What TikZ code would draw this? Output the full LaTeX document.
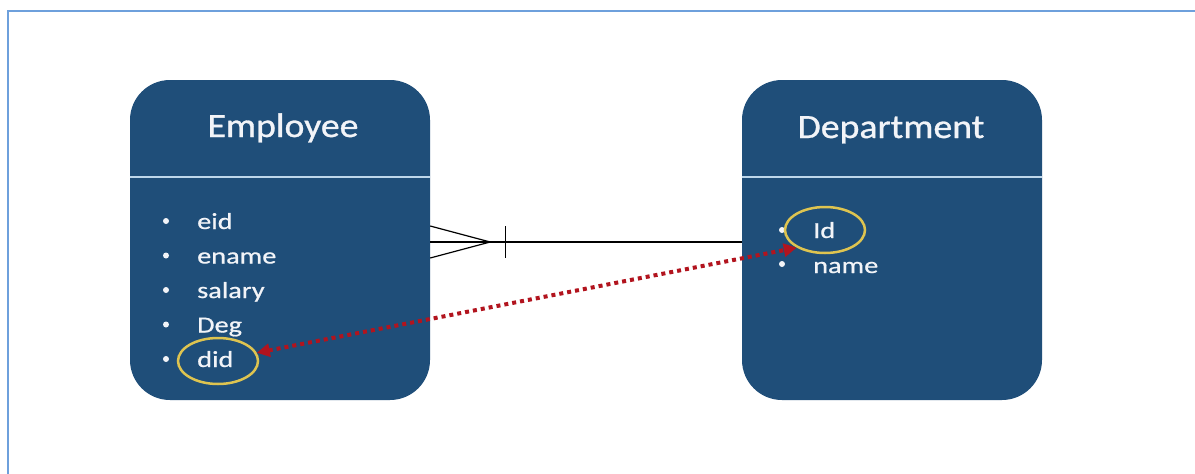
\documentclass[tikz,border=0pt]{standalone}
\usepackage{fontspec}
\setmainfont{Carlito}
\newfontfamily\titlefont[FakeStretch=1.11,FakeBold=0.9]{Carlito}
\newfontfamily\itemfont[FakeStretch=1.23,FakeBold=0.7]{Carlito}
\usetikzlibrary{arrows.meta,shapes.geometric,calc}
\definecolor{boxblue}{RGB}{31,78,121}
\definecolor{seplight}{RGB}{190,215,235}
\definecolor{framblue}{RGB}{110,160,220}
\definecolor{hlyellow}{RGB}{222,196,80}
\definecolor{fkred}{RGB}{178,20,30}
\definecolor{txtwhite}{RGB}{242,244,248}
\tikzset{
  entity/.style={draw=none, fill=boxblue, rounded corners=40pt, minimum width=300pt, minimum height=320pt, inner sep=0pt},
  septitle/.style={draw=seplight, line width=1.8pt},
  titletext/.style={text=txtwhite, font=\titlefont\fontsize{34}{40}\selectfont, inner sep=0pt},
  itemtext/.style={text=txtwhite, font=\itemfont\fontsize{23}{28}\selectfont, inner sep=0pt},
  bul/.style={circle, fill=txtwhite, minimum size=6pt, inner sep=0pt},
  hl/.style={ellipse, draw=hlyellow, line width=2.5pt, minimum width=80pt, minimum height=46pt, inner sep=0pt},
  rel/.style={draw=black, line width=1.2pt},
  fk/.style={draw=fkred, line width=4pt, dash pattern=on 4pt off 4pt,
     {Triangle[length=13pt,width=13pt]}-{Triangle[length=13pt,width=13pt]}},
  frameline/.style={draw=framblue, line width=2pt}
}
\begin{document}
\begin{tikzpicture}[x=1pt,y=-1pt]
\useasboundingbox (0,0) rectangle (1195,474);
\fill[white] (0,0) rectangle (1195,474);
% frame
\coordinate (fr1) at (8,474);
\coordinate (fr2) at (8,11);
\coordinate (fr3) at (1195,11);
\draw[frameline] (fr1) -- (fr2) -- (fr3);
% entities
\node[entity] (emp) at (280,240) {};
\node[entity] (dept) at (892,240) {};
\draw[septitle] (emp.west |- 0,177) -- (emp.east |- 0,177);
\draw[septitle] (dept.west |- 0,177) -- (dept.east |- 0,177);
\node[titletext, anchor=base] (empT) at (283,137) {Employee};
\node[titletext, anchor=base] (deptT) at (891,138) {Department};
% employee attributes
\node[bul] (eb1) at (166,221) {};
\node[bul] (eb2) at (166,255.5) {};
\node[bul] (eb3) at (166,290) {};
\node[bul] (eb4) at (166,324.5) {};
\node[bul] (eb5) at (166,359) {};
\node[itemtext, anchor=base west] (e1) at (197,229) {eid};
\node[itemtext, anchor=base west] (e2) at (197,263.5) {ename};
\node[itemtext, anchor=base west] (e3) at (197,298) {salary};
\node[itemtext, anchor=base west] (e4) at (197,332.5) {Deg};
\node[itemtext, anchor=base west] (e5) at (197,367) {did};
% department attributes
\node[bul] (db1) at (782,230) {};
\node[bul] (db2) at (782,264) {};
\node[itemtext, anchor=base west] (d1) at (813,238) {Id};
\node[itemtext, anchor=base west] (d2) at (813,273) {name};
% highlights
\node[hl] (didE) at (218,361) {};
\node[hl] (idE) at (825,230) {};
% relationship (many-to-one)
\coordinate (relL) at ($(emp.east)+(0,2)$);
\coordinate (relR) at ($(dept.west)+(0,2)$);
\coordinate (cfTop) at ($(relL)+(0,-16)$);
\coordinate (cfBot) at ($(relL)+(0,16)$);
\coordinate (cfTip) at ($(relL)+(60,0)$);
\coordinate (barTop) at ($(relL)+(75,-16)$);
\coordinate (barBot) at ($(relL)+(75,16)$);
\draw[rel] (relL) -- (relR);
\draw[rel] (cfTop) -- (cfTip) -- (cfBot);
\draw[rel] (barTop) -- (barBot);
% foreign key arrow
\draw[fk] (didE.12) -- (idE.212);
\end{tikzpicture}
\end{document}
